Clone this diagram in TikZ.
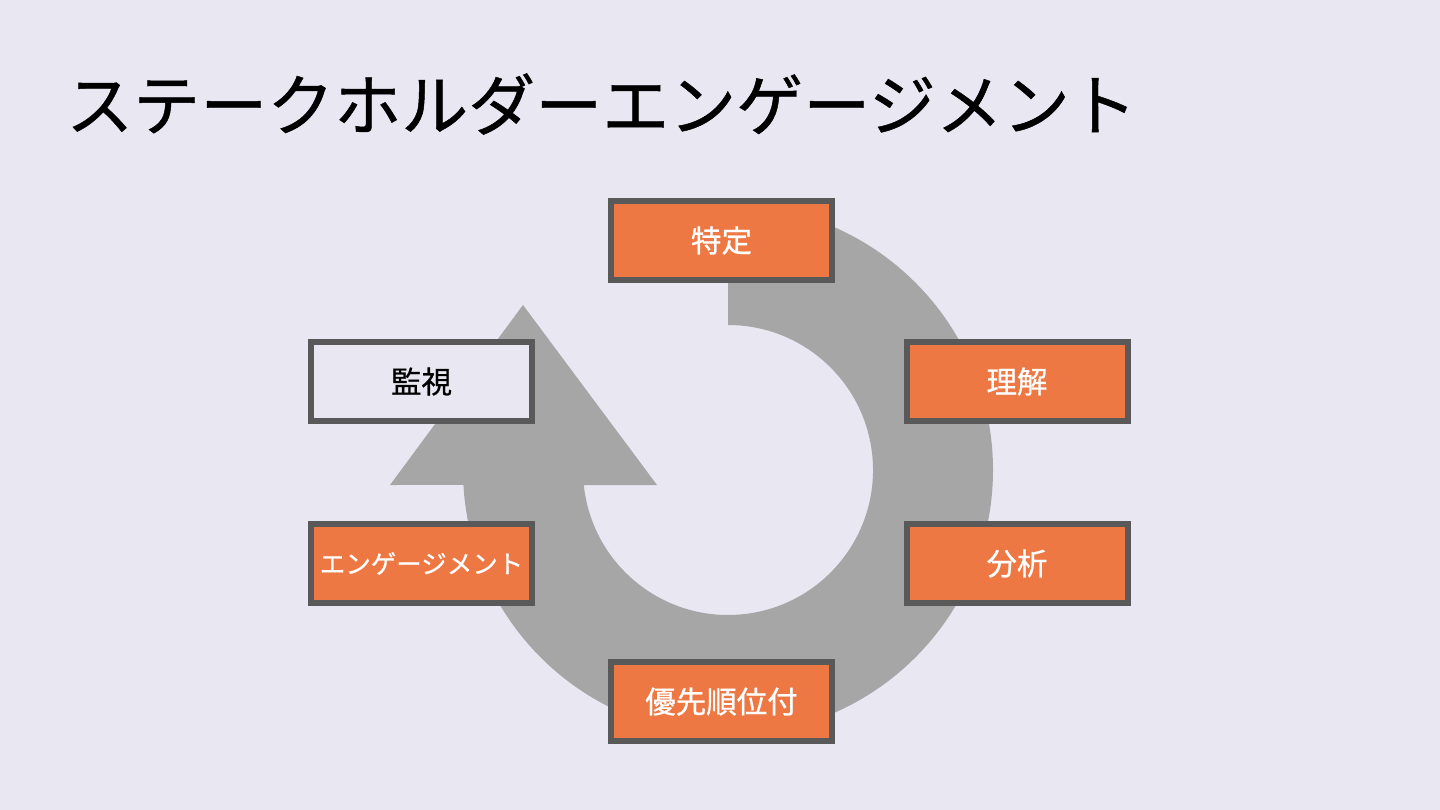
\documentclass[tikz,border=0pt]{standalone}
\usepackage{fontspec}
\setmainfont{Noto Sans CJK JP}
\newfontfamily\heavyjp[FakeBold=0.7]{Noto Sans CJK JP}
\usetikzlibrary{calc}

\definecolor{bgcol}{HTML}{E9E7F2}
\definecolor{ringcol}{HTML}{A6A6A6}
\definecolor{edgecol}{HTML}{595959}
\definecolor{stepcol}{HTML}{ED7843}

\begin{document}
\begin{tikzpicture}[
  x=1pt, y=1pt,
  stage/.style ={draw=edgecol,line width=6pt,rectangle,minimum width=221pt,
                 minimum height=79pt,inner sep=0,fill=stepcol,text=white,
                 font=\heavyjp\fontsize{30.5}{36}\selectfont},
  idle/.style  ={stage,fill=bgcol,text=black},
  ttl/.style   ={anchor=west,inner sep=0,font=\heavyjp\fontsize{67}{78}\selectfont},
]

% ------------------------------------------------------------ canvas
\fill[bgcol] (0,0) rectangle (1440,-810);
\useasboundingbox (0,0) rectangle (1440,-810);

\node[ttl] (title) at (66,-104) {ステークホルダーエンゲージメント};

% ------------------------------------------------------------ cycle arrow
% centre (728,-470), outer radius 265, inner radius 145
\coordinate (ctr) at (728,-470);
\fill[ringcol] (728,-205) arc[start angle=90, end angle=-176.76, radius=265]
  -- (390,-485) -- (523,-305) -- (657,-485) -- (583.8,-485)
  arc[start angle=-174.06, end angle=90, radius=145] -- cycle;

% ------------------------------------------------------------ stages
\node[stage] (ident) at (721.5,-240.5) {特定};
\node[stage] (under) at (1017,-381.5)  {理解};
\node[stage] (anal)  at (1017,-563.5)  {分析};
\node[stage] (prio)  at (721.5,-701.5) {優先順位付};
\node[stage,font=\heavyjp\fontsize{25.5}{30}\selectfont] (engage) at (421.5,-563.5) {エンゲージメント};
\node[idle]  (watch) at (421.5,-381.5) {監視};

\end{tikzpicture}
\end{document}
